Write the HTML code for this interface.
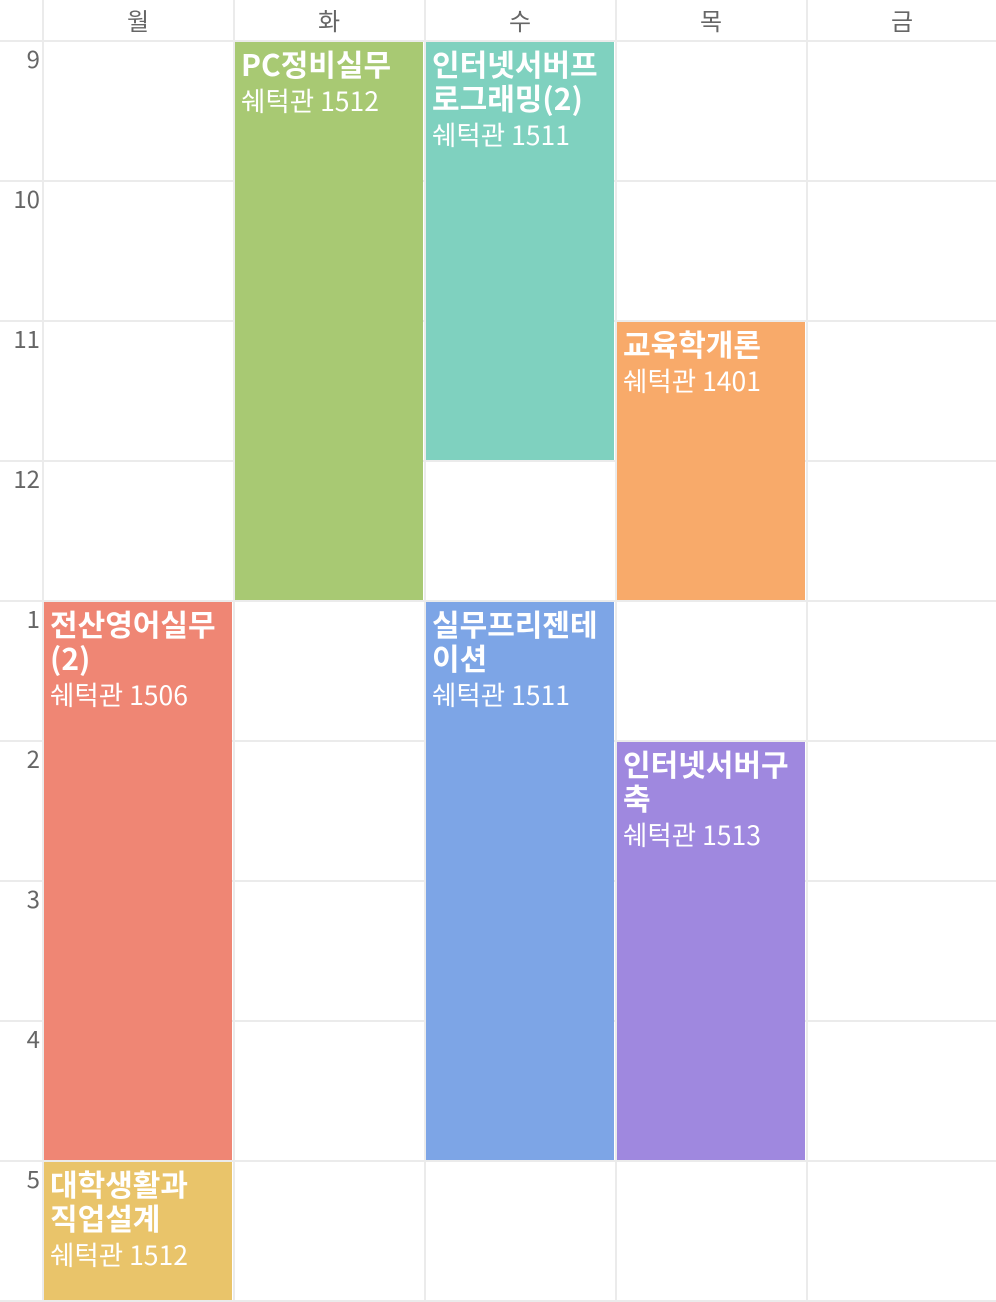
<!DOCTYPE html>
<html><head><meta charset="utf-8">
<style>
body{margin:0;width:996px;height:1302px;background:#fff;position:relative;overflow:hidden;font-family:"Noto Sans CJK KR","Liberation Sans",sans-serif}
.ln{position:absolute;background:#ebebeb}
.hd{position:absolute;top:0;height:40px;line-height:40px;text-align:center;color:#666;font-size:24px}
.tm{position:absolute;left:0;width:40px;text-align:right;color:#666;font-size:24px;line-height:34px}
.bk{position:absolute;color:#fff;box-sizing:border-box;padding:4px 6px}
.bk .t{font-size:30px;font-weight:bold;line-height:34px;letter-spacing:0}
.bk .r{font-size:26.5px;line-height:34px;margin-top:3px}
</style></head><body>
<div id="root"></div>
<script>
const days=['월','화','수','목','금'];
const hours=['9','10','11','12','1','2','3','4','5'];
const courses=['전산영어실무(2)','대학생활과 직업설계','PC정비실무','인터넷서버프로그래밍(2)','실무프리젠테이션','교육학개론','인터넷서버구축'];
const rooms=['쉐턱관 1506','쉐턱관 1512','쉐턱관 1512','쉐턱관 1511','쉐턱관 1511','쉐턱관 1401','쉐턱관 1513'];
const dayIdx=[0,0,1,2,2,3,3];
const startIdx=[4,8,0,0,4,2,5];
const durations=[4,1,4,3,4,2,3];
const colors=['#ef8674','#e9c46a','#a8c973','#7fd1bf','#7da5e6','#f8aa6a','#9f88df'];
const titles=['전산영어실무<br>(2)','대학생활과<br>직업설계','PC정비실무','인터넷서버프<br>로그래밍(2)','실무프리젠테<br>이션','교육학개론','인터넷서버구<br>축'];
const X0=44,CW=191,Y0=42,RH=140;
const colX=d=>X0+CW*d, rowY=h=>Y0+RH*h;
const root=document.body;
function add(cls,css,html){const e=document.createElement('div');e.className=cls;e.style.cssText=css;if(html!==undefined)e.innerHTML=html;root.appendChild(e);return e;}
for(let d=0;d<days.length;d++){
 const e=add('ln',`left:${colX(d)-2}px;top:0;width:2px;height:1302px`);
 
 
}
for(let h=0;h<=hours.length;h++){
 const e=add('ln',`left:0;top:${rowY(h)-2}px;width:996px;height:2px`);
 
 
}
days.forEach((d,i)=>{
 const e=add('hd',`left:${colX(i)}px;width:${CW-3}px`,d);
 
 
});
hours.forEach((h,i)=>{
 const e=add('tm',`top:${rowY(i)-1}px`,h);
 
 
});
courses.forEach((c,i)=>{
 const x=colX(dayIdx[i]),y=rowY(startIdx[i]);
 const h=RH*durations[i]-2;
 const e=add('bk',`left:${x}px;top:${y}px;width:${CW-3}px;height:${h}px;background:${colors[i]}`,`<div class="t">${titles[i]}</div><div class="r">${rooms[i]}</div>`);
 
 
});
</script>
</body></html>
